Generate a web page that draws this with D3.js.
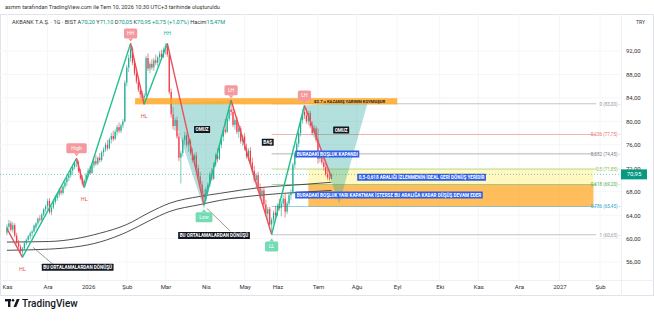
<!DOCTYPE html>
<html>
<head>
<meta charset="utf-8">
<title>AKBANK T.A.Ş. 1G</title>
<style>
  html, body { margin: 0; padding: 0; background: #fff; }
  svg text { font-family: Roboto, "Noto Sans", sans-serif; }
  .axis path, .axis line { display: none; }
  .axis text { font-size: 6px; fill: #333; font-family: Roboto, "Noto Sans", sans-serif; }
</style>
<script src="https://d3js.org/d3.v7.min.js"></script>
</head>
<body>
<svg id="chart" width="654" height="322"></svg>
<script>
// gunluk mumlar [acilis, yuksek, dusuk, kapanis] - 3 Kas 2025 .. 10 Tem 2026
const candles = [
  [61.0,62.4,60.6,62.0],[62.0,63.2,61.5,62.6],[62.6,63.0,61.2,61.5],[61.5,62.8,61.0,62.3],[62.3,62.6,60.2,60.5],
  [60.5,61.0,59.0,59.3],[59.3,59.8,58.2,58.6],[58.6,59.0,57.4,57.8],[57.8,58.6,56.8,58.3],[58.3,59.6,58.0,59.2],
  [59.2,60.0,58.8,59.8],[59.8,60.6,59.4,60.4],[60.4,61.2,59.9,60.9],[60.9,61.5,60.3,61.2],[61.2,62.4,61.0,62.2],
  [61.9,62.8,61.5,62.6],[62.6,63.6,62.2,63.4],[63.4,64.0,62.8,63.2],[63.2,64.4,63.0,64.1],[64.1,65.2,63.8,65.0],
  [65.0,65.8,64.5,65.5],[65.5,66.8,64.9,66.4],[66.4,66.9,64.2,64.5],[64.5,65.6,64.0,65.3],[65.3,66.6,65.0,66.2],
  [66.2,67.4,65.8,67.1],[66.9,67.8,66.4,67.5],[67.5,68.6,67.0,68.2],[68.2,68.8,67.4,67.8],[67.8,69.2,67.5,68.9],
  [68.9,70.0,68.5,69.6],[69.6,70.6,69.0,70.3],[70.3,71.2,69.8,70.8],[70.8,72.0,70.4,71.6],[71.6,72.6,71.0,72.2],
  [72.2,73.2,71.8,72.9],[72.9,73.7,72.2,73.0],[73.0,73.3,71.2,71.5],[71.5,71.9,70.0,70.3],[70.3,70.8,69.0,69.4],
  [69.4,70.2,68.7,69.9],[69.9,71.2,69.6,70.9],[70.9,72.0,70.5,71.6],[71.6,72.4,70.9,71.2],[71.2,72.8,71.0,72.5],
  [72.5,73.6,72.1,73.2],[73.2,74.2,72.4,72.8],[72.8,74.0,72.5,73.8],[73.8,74.6,73.0,73.4],[73.4,75.0,73.1,74.7],
  [74.7,75.6,74.0,75.2],[75.2,76.4,74.8,76.0],[76.0,76.8,75.0,75.4],[75.4,77.2,75.2,76.9],[76.9,78.0,76.2,77.5],
  [77.5,78.4,76.6,77.0],[77.0,78.6,76.8,78.2],[78.2,79.4,77.6,79.0],[79.0,79.8,78.0,78.4],[78.4,79.6,78.0,79.3],
  [79.3,80.4,78.8,80.0],[80.0,87.0,79.8,86.6],[86.6,89.6,86.0,89.2],[89.2,91.4,88.4,90.8],[90.8,93.3,90.2,92.4],
  [92.4,92.8,89.6,90.0],[90.0,90.6,87.8,88.2],[88.2,89.0,86.4,86.8],[86.8,87.6,85.0,85.4],[85.4,86.2,84.0,84.6],
  [84.6,85.2,83.4,84.0],[84.0,84.8,82.9,84.4],[84.4,91.2,84.2,90.8],[90.8,91.6,88.6,89.0],[89.0,90.2,88.2,89.8],
  [89.8,90.6,88.8,89.2],[89.2,90.8,88.6,90.4],[90.4,91.4,89.6,90.0],[90.0,91.2,89.4,90.9],[90.9,92.0,90.2,91.5],
  [91.5,92.2,90.6,91.0],[91.0,92.6,90.8,92.2],[92.2,93.3,91.4,92.8],[92.8,93.3,91.0,91.4],[91.4,91.8,84.6,85.0],
  [85.0,85.6,80.6,81.2],[81.2,82.4,78.6,79.2],[79.2,80.6,78.4,80.2],[80.2,80.8,77.0,77.4],[77.4,78.0,73.2,73.8],
  [73.8,75.0,69.4,74.6],[74.6,77.2,74.0,76.8],[76.8,78.2,76.0,77.6],[77.6,78.0,75.6,76.0],[76.0,77.0,74.8,76.6],
  [76.6,77.0,74.2,74.6],[74.6,75.4,73.0,73.4],[73.4,74.6,72.4,74.2],[74.2,74.8,71.6,72.0],[72.0,72.6,70.2,70.6],
  [70.6,71.4,68.8,69.2],[69.2,69.8,67.2,67.6],[67.6,68.4,65.7,67.0],[67.0,68.8,66.4,68.4],[68.4,69.6,67.8,69.2],
  [69.2,71.4,68.8,71.0],[71.0,72.0,69.8,70.2],[70.2,73.0,70.0,72.6],[72.6,74.6,72.2,74.2],[74.2,75.4,73.0,73.6],
  [73.6,76.4,73.4,76.0],[76.0,77.8,75.4,77.4],[77.4,79.0,76.6,78.6],[78.6,80.4,77.8,78.2],[78.2,80.8,78.0,80.4],
  [80.4,82.6,80.0,82.0],[82.0,83.6,81.0,81.6],[81.6,82.2,79.0,79.4],[79.4,80.6,78.6,80.2],[80.2,80.8,77.8,78.2],
  [78.2,79.4,77.2,78.8],[78.8,79.2,76.2,76.6],[76.6,77.8,75.8,77.4],[77.4,78.0,75.0,75.4],[75.4,76.2,73.6,74.0],
  [74.0,75.4,73.2,75.0],[75.0,75.6,72.6,73.0],[73.0,73.8,71.2,71.6],[71.6,72.4,69.6,70.0],[70.0,71.2,68.6,70.8],
  [70.8,71.4,68.2,68.6],[68.6,69.4,66.8,67.2],[67.2,68.6,66.4,68.2],[68.2,68.8,65.4,65.8],[65.8,66.6,63.8,64.2],
  [64.2,65.4,62.8,65.0],[65.0,65.4,62.0,62.4],[62.4,63.6,60.7,63.2],[63.2,64.8,62.6,64.4],[64.4,65.6,63.6,64.0],
  [64.0,66.0,63.8,65.6],[65.6,66.8,64.8,65.2],[65.2,66.4,63.8,66.0],[66.0,67.4,65.4,66.8],[66.8,67.6,63.6,64.6],
  [64.6,66.4,64.2,66.0],[66.0,67.8,65.6,67.4],[67.4,68.4,66.6,67.8],[67.8,73.0,67.6,72.6],[72.6,74.8,72.0,74.4],
  [74.4,76.6,73.8,76.2],[76.2,78.4,75.6,78.0],[78.0,80.6,77.4,80.2],[80.2,82.0,79.6,81.6],[81.6,82.7,80.4,81.0],
  [81.0,82.2,79.6,80.0],[80.0,81.8,79.4,81.4],[81.4,81.8,78.8,79.2],[79.2,80.0,77.6,78.0],[78.0,79.4,77.2,78.8],
  [78.8,79.2,76.4,76.8],[76.8,78.8,72.8,73.6],[73.6,75.0,73.0,74.4],[74.4,74.8,72.6,73.0],[73.0,73.8,71.6,72.2],
  [72.2,72.8,70.6,71.0],[71.0,71.8,70.0,70.4],[70.4,71.2,69.8,70.2],[70.20,71.10,70.05,70.95]
];

// zigzag pivotlari
const zzIdx   = [0, 8, 36, 40, 64, 71, 83, 102, 116, 137, 154, 168];
const zzPrice = [61.7, 56.8, 73.7, 68.7, 93.3, 82.9, 93.3, 65.7, 83.6, 60.7, 82.7, 70.4];
const zzLabel = ["", "HL", "High", "HL", "HH", "HL", "HH", "Low", "LH", "LL", "LH", ""];
const zzStyle = ["", "txtRed", "boxRed", "txtRed", "boxRed", "txtRed", "txtGreen", "boxGreen", "boxRed", "boxGreen", "boxRed", ""];

// hareketli ortalamalar
const maIdx  = [0, 22, 48, 62, 74, 84, 100, 110, 131, 152, 168];
const maFast = [59.4, 59.5, 60.9, 62.4, 64.5, 66.0, 67.2, 67.7, 68.7, 69.2, 69.6];
const maSlow = [58.0, 58.2, 59.4, 61.1, 63.1, 64.6, 65.8, 66.5, 67.4, 67.9, 68.2];

// omuz-bas-omuz noktalari
const hsIdx   = [84, 102, 116, 137, 154, 172, 187];
const hsPrice = [83.0, 65.0, 83.6, 60.7, 82.7, 66.0, 83.5];

// fibonacci
const fibLevels = [0, 0.236, 0.382, 0.5, 0.618, 0.786, 1];
const fibPrices = [83.00, 77.75, 74.45, 71.85, 69.20, 65.45, 60.65];
const fibColors = ["#9598a1", "#e57373", "#787b86", "#8bc34a", "#4caf50", "#26a6c9", "#9598a1"];

// eksenler
const monthIdx = [0, 21, 42, 62, 82, 103, 123, 140, 161, 181, 202, 224, 244, 265, 286, 307];
const monthLabels = ["Kas", "Ara", "2026", "Şub", "Mar", "Nis", "May", "Haz", "Tem", "Ağu", "Eyl", "Eki", "Kas", "Ara", "2027", "Şub"];
const priceTicks = [56, 60, 64, 68, 72, 76, 80, 84, 88, 92];
const lastPrice = 70.95;

// notlar
const blackNotes = [["OMUZ", 101, 78.6], ["BAŞ", 135, 76.4], ["OMUZ", 173, 78.5],
                    ["BU ORTALAMALARDAN DÖNÜŞÜ", 18, 55.1], ["BU ORTALAMALARDAN DÖNÜŞÜ", 88.6, 60.5]];
const blueNotes = [["BURADAKİ BOŞLUK KAPANDI", 149.2, 74.4],
                   ["0,5-0,618 ARALIĞI İZLENMENİN İDEAL GERİ DÖNÜŞ YERİDİR", 181.3, 70.45],
                   ["BURADAKİ BOŞLUK YARI KAPATMAK İSTERSE BU ARALIĞA KADAR DÜŞÜŞ DEVAM EDER", 149.2, 67.4]];
const leaders = [[13.5, 58.5, 23.8, 55.6], [103.6, 65.1, 115.5, 61.3]];
const neckBand = [66.3, 202, 82.9, 83.95];
const neckText = "82.7 u KAZANIŞ YARININ KOYMUŞUR";

const svg = d3.select("#chart");
const x = d3.scaleLinear().domain([0, 307]).range([7, 600]);
const y = d3.scaleLinear().domain([56, 92]).range([262, 51]);
const up = "#22ab94", down = "#f23645";

svg.append("defs").append("clipPath").attr("id", "clip")
  .append("rect").attr("x", 0).attr("y", 14).attr("width", 621).attr("height", 266);

// cerceve
svg.append("rect").attr("x", 0.5).attr("y", 14.5).attr("width", 653).attr("height", 281)
  .attr("fill", "none").attr("stroke", "#e0e3eb");
svg.append("line").attr("x1", 0).attr("x2", 654).attr("y1", 280.5).attr("y2", 280.5).attr("stroke", "#eef0f4");
svg.append("line").attr("x1", 621.5).attr("x2", 621.5).attr("y1", 14).attr("y2", 296).attr("stroke", "#eef0f4");

const plot = svg.append("g").attr("clip-path", "url(#clip)");

// izgara
plot.selectAll(".vg").data(monthIdx).enter().append("line")
  .attr("x1", d => x(d)).attr("x2", d => x(d)).attr("y1", 14).attr("y2", 280)
  .attr("stroke", "#f5f6f8");
plot.selectAll(".hg").data(priceTicks).enter().append("line")
  .attr("x1", 0).attr("x2", 621).attr("y1", d => y(d)).attr("y2", d => y(d))
  .attr("stroke", "#f5f6f8");

// fib bantlari
plot.append("rect").attr("x", x(156)).attr("width", x(303.6) - x(156))
  .attr("y", y(fibPrices[3])).attr("height", y(fibPrices[4]) - y(fibPrices[3]))
  .attr("fill", "#fff176").attr("opacity", 0.45);
plot.append("rect").attr("x", x(156)).attr("width", x(303.6) - x(156))
  .attr("y", y(fibPrices[4])).attr("height", y(fibPrices[5]) - y(fibPrices[4]))
  .attr("fill", "#ffa726").attr("opacity", 0.75);

// fib cizgileri
fibPrices.forEach((p, k) => {
  plot.append("line").attr("x1", x(137)).attr("x2", x(305))
    .attr("y1", y(p)).attr("y2", y(p)).attr("stroke", fibColors[k]).attr("stroke-width", 0.7).attr("opacity", 0.8);
  svg.append("text").attr("x", 620).attr("y", y(p) + 1.8).attr("text-anchor", "end")
    .attr("font-size", 4.6).attr("fill", fibColors[k])
    .text(String(fibLevels[k]).replace(".", ",") + " (" + p.toFixed(2).replace(".", ",") + ") -");
});

// son fiyat cizgisi
plot.append("line").attr("x1", 0).attr("x2", 621).attr("y1", y(lastPrice)).attr("y2", y(lastPrice))
  .attr("stroke", "#089981").attr("stroke-dasharray", "1,2").attr("opacity", 0.5);

// ortalamalar
[maFast, maSlow].forEach(ma => {
  plot.append("path").datum(maIdx.map((d, k) => [d, ma[k]]))
    .attr("d", d3.line().x(d => x(d[0])).y(d => y(d[1])).curve(d3.curveMonotoneX))
    .attr("fill", "none").attr("stroke", "#222").attr("stroke-width", 0.8);
});

// mumlar
const cg = plot.selectAll(".c").data(candles).enter().append("g");
cg.append("line").attr("x1", (d, i) => x(i)).attr("x2", (d, i) => x(i))
  .attr("y1", d => y(d[1])).attr("y2", d => y(d[2]))
  .attr("stroke", d => d[3] >= d[0] ? up : down).attr("stroke-width", 0.6);
cg.append("rect").attr("x", (d, i) => x(i) - 0.6).attr("width", 1.2)
  .attr("y", d => y(Math.max(d[0], d[3])))
  .attr("height", d => Math.max(0.6, Math.abs(y(d[0]) - y(d[3]))))
  .attr("fill", d => d[3] >= d[0] ? up : down);

// omuz ucgenleri
[[0, 1, 2], [4, 5, 6]].forEach(t => {
  plot.append("path")
    .attr("d", d3.line()(t.map(k => [x(hsIdx[k]), y(hsPrice[k])])) + "Z")
    .attr("fill", "#26a69a").attr("opacity", 0.35);
});

// boyun bandi
plot.append("rect").attr("x", x(neckBand[0])).attr("width", x(neckBand[1]) - x(neckBand[0]))
  .attr("y", y(neckBand[3])).attr("height", y(neckBand[2]) - y(neckBand[3]))
  .attr("fill", "#ffa726").attr("opacity", 0.85);
plot.append("text").attr("x", x(159)).attr("y", y(83.42) + 1.5)
  .attr("font-size", 4.2).attr("font-weight", "bold").attr("fill", "#222").text(neckText);

// zigzag
for (let k = 1; k < zzIdx.length; k++) {
  plot.append("line")
    .attr("x1", x(zzIdx[k - 1])).attr("y1", y(zzPrice[k - 1]))
    .attr("x2", x(zzIdx[k])).attr("y2", y(zzPrice[k]))
    .attr("stroke", zzPrice[k] > zzPrice[k - 1] ? "#1fbf8f" : "#e8505b")
    .attr("stroke-width", 1.4);
}

// leader lines
leaders.forEach(l => {
  plot.append("line").attr("x1", x(l[0])).attr("y1", y(l[1])).attr("x2", x(l[2])).attr("y2", y(l[3]))
    .attr("stroke", "#555").attr("stroke-width", 0.6);
});

// pivot etiketleri
zzLabel.forEach((t, k) => {
  if (!t) return;
  const st = zzStyle[k], px = x(zzIdx[k]), py = y(zzPrice[k]);
  const below = st === "txtRed" || st === "boxGreen";
  const cy = below ? py + 12 : py - 10;
  if (st.startsWith("box")) {
    const w = t.length * 3.6 + 6;
    const col = st === "boxRed" ? "#f49a9f" : "#74dcb4";
    const g = plot.append("g");
    g.append("rect").attr("x", px - w / 2).attr("y", cy - 5).attr("width", w).attr("height", 10)
      .attr("rx", 1.5).attr("fill", col);
    g.append("path").attr("fill", col)
      .attr("d", below ? `M${px - 2.5},${cy - 5}L${px},${cy - 8}L${px + 2.5},${cy - 5}Z`
                       : `M${px - 2.5},${cy + 5}L${px},${cy + 8}L${px + 2.5},${cy + 5}Z`);
    g.append("text").attr("x", px).attr("y", cy + 1.8).attr("text-anchor", "middle")
      .attr("font-size", 5).attr("fill", "#fff").text(t);
  } else {
    plot.append("text").attr("x", px).attr("y", cy + 1.8).attr("text-anchor", "middle")
      .attr("font-size", 5.5).attr("fill", st === "txtRed" ? "#e8505b" : "#1fbf8f").text(t);
  }
});

// not kutulari
function note(t, i, p, bg, anchor) {
  const g = plot.append("g");
  const tx = g.append("text").attr("x", x(i) + 1.5).attr("y", y(p) + 1.7)
    .attr("font-size", 4.6).attr("font-weight", "bold").attr("fill", "#fff").text(t);
  const w = tx.node().getComputedTextLength();
  let x0 = x(i);
  if (anchor === "middle") { x0 = x(i) - w / 2 - 1.5; tx.attr("x", x0 + 1.5); }
  g.insert("rect", "text").attr("x", x0).attr("y", y(p) - 3.6).attr("width", w + 3).attr("height", 7)
    .attr("fill", bg).attr("rx", 0.5);
}
blackNotes.forEach((n, k) => note(n[0], n[1], n[2], "#131722", k < 3 ? "middle" : "start"));
blueNotes.forEach(n => note(n[0], n[1], n[2], "#2f5fe6", "start"));

// eksenler
svg.append("g").attr("class", "axis").attr("transform", "translate(0,282)")
  .call(d3.axisBottom(x).tickValues(monthIdx).tickFormat((d, k) => monthLabels[k]).tickSize(0).tickPadding(3));
svg.append("g").attr("class", "axis").attr("transform", "translate(624,0)")
  .call(d3.axisRight(y).tickValues(priceTicks).tickFormat(d => d.toFixed(2).replace(".", ",")).tickSize(0).tickPadding(2));

// son fiyat etiketi
svg.append("rect").attr("x", 621).attr("y", y(lastPrice) - 5).attr("width", 26).attr("height", 10).attr("fill", "#089981");
svg.append("text").attr("x", 634).attr("y", y(lastPrice) + 2).attr("text-anchor", "middle")
  .attr("font-size", 6).attr("fill", "#fff").text(lastPrice.toFixed(2).replace(".", ","));

// baslik
svg.append("text").attr("x", 5).attr("y", 9).attr("font-size", 5.6).attr("fill", "#333")
  .text("asmm tarafından TradingView.com ile Tem 10, 2026 10:30 UTC+3 tarihinde oluşturuldu");
const ohlc = candles[candles.length - 1];
const prev = candles[candles.length - 2][3];
const ch = ohlc[3] - prev;
const f = v => v.toFixed(2).replace(".", ",");
const hdr = svg.append("text").attr("x", 12).attr("y", 24).attr("font-size", 5.6).attr("fill", "#333");
hdr.append("tspan").text("AKBANK T.A.Ş. · 1G · BIST  ");
[["A", ohlc[0]], ["Y", ohlc[1]], ["D", ohlc[2]], ["K", ohlc[3]]].forEach(d => {
  hdr.append("tspan").text(" " + d[0]);
  hdr.append("tspan").attr("fill", "#089981").text(f(d[1]));
});
hdr.append("tspan").attr("fill", "#089981").text("  +" + f(ch) + " (+" + f(ch / prev * 100) + "%)");
hdr.append("tspan").text("  Hacim");
hdr.append("tspan").attr("fill", "#089981").text("15,47M");
svg.append("text").attr("x", 645).attr("y", 24).attr("text-anchor", "end").attr("font-size", 5).attr("fill", "#333").text("TRY");

// logo
const lg = svg.append("g").attr("fill", "#131722");
lg.append("rect").attr("x", 5).attr("y", 299).attr("width", 6).attr("height", 2.4);
lg.append("rect").attr("x", 8).attr("y", 299).attr("width", 2.4).attr("height", 8);
lg.append("circle").attr("cx", 13).attr("cy", 300.2).attr("r", 1.3);
lg.append("path").attr("d", "M13.5,307L16.8,299L19.6,299L16.3,307Z");
svg.append("text").attr("x", 22).attr("y", 307).attr("font-size", 10).attr("font-weight", 500)
  .attr("fill", "#131722").text("TradingView");
</script>
</body>
</html>
